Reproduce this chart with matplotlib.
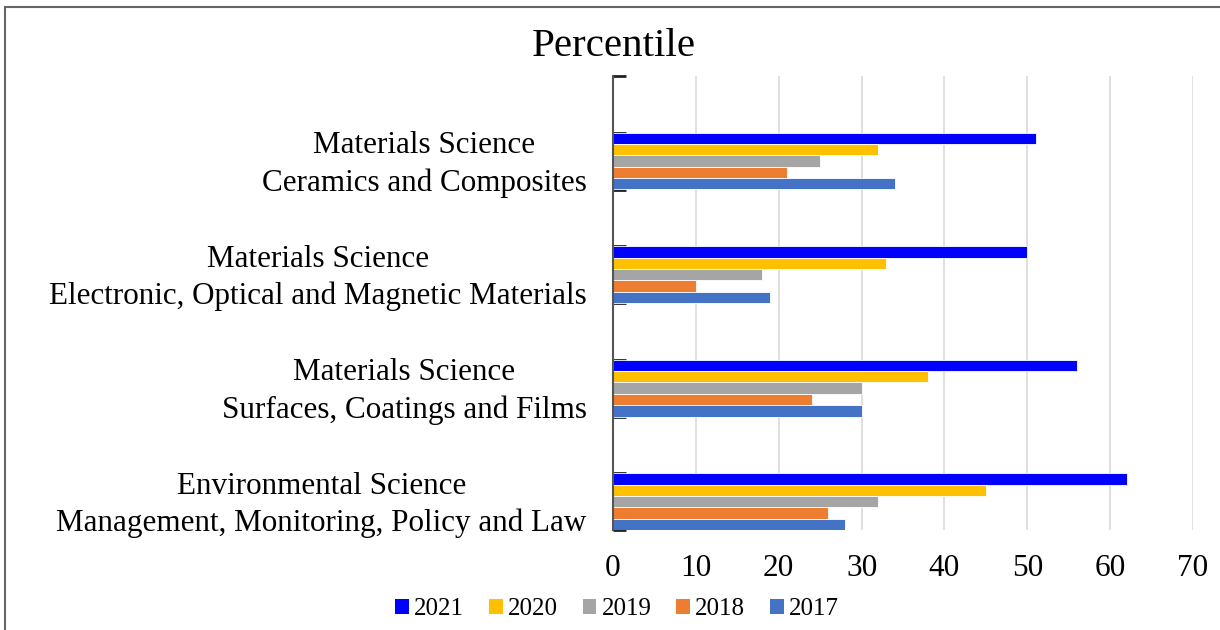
import matplotlib
matplotlib.use("Agg")
import matplotlib.pyplot as plt
from matplotlib.patches import Rectangle, Patch
import numpy as np

plt.rcParams['font.family'] = ['Liberation Serif', 'DejaVu Serif']

# categories, bottom to top
categories = [
    "Environmental Science\nManagement, Monitoring, Policy and Law",
    "Materials Science\nSurfaces, Coatings and Films",
    "Materials Science\nElectronic, Optical and Magnetic Materials",
    "Materials Science\nCeramics and Composites",
]
years = ["2021", "2020", "2019", "2018", "2017"]
v2021 = [62, 56, 50, 51]
v2020 = [45, 38, 33, 32]
v2019 = [32, 30, 18, 25]
v2018 = [26, 24, 10, 21]
v2017 = [28, 30, 19, 34]
colors = ["#0000FF", "#FFC000", "#A5A5A5", "#ED7D31", "#4472C4"]

series = [v2021, v2020, v2019, v2018, v2017]

fig = plt.figure(figsize=(12.2, 6.3), dpi=100)
ax = fig.add_axes([613 / 1220, 1 - 530 / 630, 580 / 1220, 454 / 630])

pos = np.arange(len(categories))
h = 0.1
for i, (vals, c) in enumerate(zip(series, colors)):
    ax.barh(pos + 0.2 - i * h, vals, height=h, color=c,
            edgecolor="white", linewidth=0.6, zorder=3, label=years[i])

ax.set_xlim(0, 70)
ax.set_ylim(-0.25, 3.75)
ax.set_xticks(range(0, 71, 10))
ax.tick_params(axis="x", length=0, labelsize=22.5, pad=17)
ax.grid(axis="x", color="#D9D9D9", linewidth=1.2, zorder=0)

# labels sit a touch above the group centre, like the original
ax.set_yticks(pos + 0.035)
ax.set_yticklabels(categories, fontsize=22.4, linespacing=1.34)
for lab in ax.get_yticklabels():
    lab.set_multialignment("center")
ax.tick_params(axis="y", which="major", length=0, pad=19)
minor = sorted(list(pos - 0.25) + list(pos + 0.25) + [3.75])
ax.set_yticks(minor, minor=True)
ax.tick_params(axis="y", which="minor", direction="in", length=9,
               width=2, color="#222222")

for s in ["top", "right", "bottom"]:
    ax.spines[s].set_visible(False)
ax.spines["left"].set_color("#555555")
ax.spines["left"].set_linewidth(1.5)
ax.spines["left"].set_zorder(4)

fig.text(614 / 1220, 1 - 46 / 630, "Percentile", ha="center", va="center",
         fontsize=29.5)

handles = [Patch(facecolor=c, label=y) for c, y in zip(colors, years)]
fig.legend(handles=handles, loc="center", bbox_to_anchor=(617 / 1220, 1 - 609 / 630),
           ncol=5, frameon=False, fontsize=18, handlelength=0.55,
           handleheight=0.55, handletextpad=0.2, columnspacing=1.0)

fig.patches.append(Rectangle((5 / 1220, -0.1), 1.2, 1 - 7 / 630 + 0.1,
                             transform=fig.transFigure, fill=False,
                             edgecolor="#666666", linewidth=1.5))

fig.savefig("out.png", dpi=100)
